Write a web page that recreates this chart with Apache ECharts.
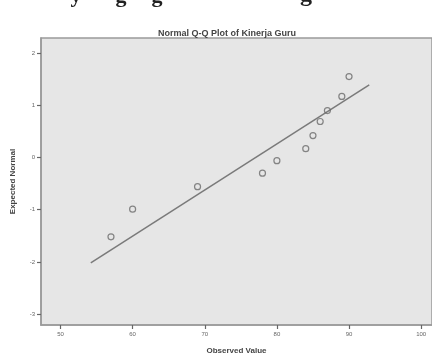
<!DOCTYPE html>
<html>
<head>
<meta charset="utf-8">
<script src="https://cdn.jsdelivr.net/npm/echarts@6/dist/echarts.min.js"></script>
<style>
  html, body { margin: 0; padding: 0; background: #fff; }
  #chart { width: 432px; height: 360px; }
</style>
</head>
<body>
<div id="chart"></div>
<script>
const observed = [57, 60, 69, 78, 80, 84, 85, 86, 87, 89, 90];
const expected = [-1.52, -0.99, -0.56, -0.30, -0.06, 0.17, 0.42, 0.69, 0.90, 1.17, 1.55];
// reference line end points
const lineX = [54.2, 92.8];
const lineY = [-2.02, 1.39];
const xTicks = [50, 60, 70, 80, 90, 100];
const yTicks = [-3, -2, -1, 0, 1, 2];

const points = observed.map((v, i) => [v, expected[i]]);
const line = lineX.map((v, i) => [v, lineY[i]]);

const chart = echarts.init(document.getElementById('chart'), null, { renderer: 'canvas' });

const tickFont = { fontFamily: 'Liberation Sans', fontSize: 6, color: '#666' };

// clipped letters of the page text above the chart (only descenders show)
function clipped(ch, x, size) {
    return {
        type: 'text', x: x, y: 7,
        style: { text: ch, font: 'bold ' + (size || 22) + 'px "Liberation Serif"', fill: '#222', verticalAlign: 'bottom', align: 'center' }
    };
}

chart.setOption({
    animation: false,
    backgroundColor: '#fff',
    title: {
        text: 'Normal Q-Q Plot of Kinerja Guru',
        left: 222,
        textAlign: 'center',
        top: 24,
        textStyle: { fontFamily: 'Liberation Sans', fontSize: 9, fontWeight: 'bold', color: '#444' }
    },
    graphic: [
        clipped('y', 76),
        clipped('g', 121),
        clipped('g', 157),
        clipped('g', 306, 24)
    ],
    grid: {
        left: 41, right: 0, top: 38, bottom: 35,
        show: true,
        backgroundColor: '#e6e6e6',
        borderColor: '#9a9a9a',
        borderWidth: 1.5
    },
    xAxis: {
        type: 'value',
        min: 47.3,
        max: 101.5,
        name: 'Observed Value',
        nameLocation: 'middle',
        nameGap: 22,
        nameTextStyle: { fontFamily: 'Liberation Sans', fontSize: 8, fontWeight: 'bold', color: '#444' },
        axisLine: { show: true, onZero: false, lineStyle: { color: '#9a9a9a', width: 1.5 } },
        splitLine: { show: false },
        axisTick: { show: true, inside: false, length: 4, customValues: xTicks, lineStyle: { color: '#666', width: 1.2 } },
        axisLabel: Object.assign({ customValues: xTicks, margin: 6 }, tickFont)
    },
    yAxis: {
        type: 'value',
        min: -3.21,
        max: 2.29,
        name: 'Expected Normal',
        nameLocation: 'middle',
        nameGap: 24,
        nameTextStyle: { fontFamily: 'Liberation Sans', fontSize: 8, fontWeight: 'bold', color: '#444' },
        axisLine: { show: true, onZero: false, lineStyle: { color: '#9a9a9a', width: 1.5 } },
        splitLine: { show: false },
        axisTick: { show: true, inside: false, length: 4, customValues: yTicks, lineStyle: { color: '#666', width: 1.2 } },
        axisLabel: Object.assign({ customValues: yTicks, margin: 6 }, tickFont)
    },
    series: [
        {
            type: 'line',
            data: line,
            symbol: 'none',
            lineStyle: { color: '#7a7a7a', width: 1.5 },
            z: 2
        },
        {
            type: 'scatter',
            data: points,
            symbol: 'circle',
            symbolSize: 6,
            itemStyle: { color: 'rgba(0,0,0,0)', borderColor: '#6a6a6a', borderWidth: 1.2 },
            z: 3
        }
    ]
});
</script>
</body>
</html>
